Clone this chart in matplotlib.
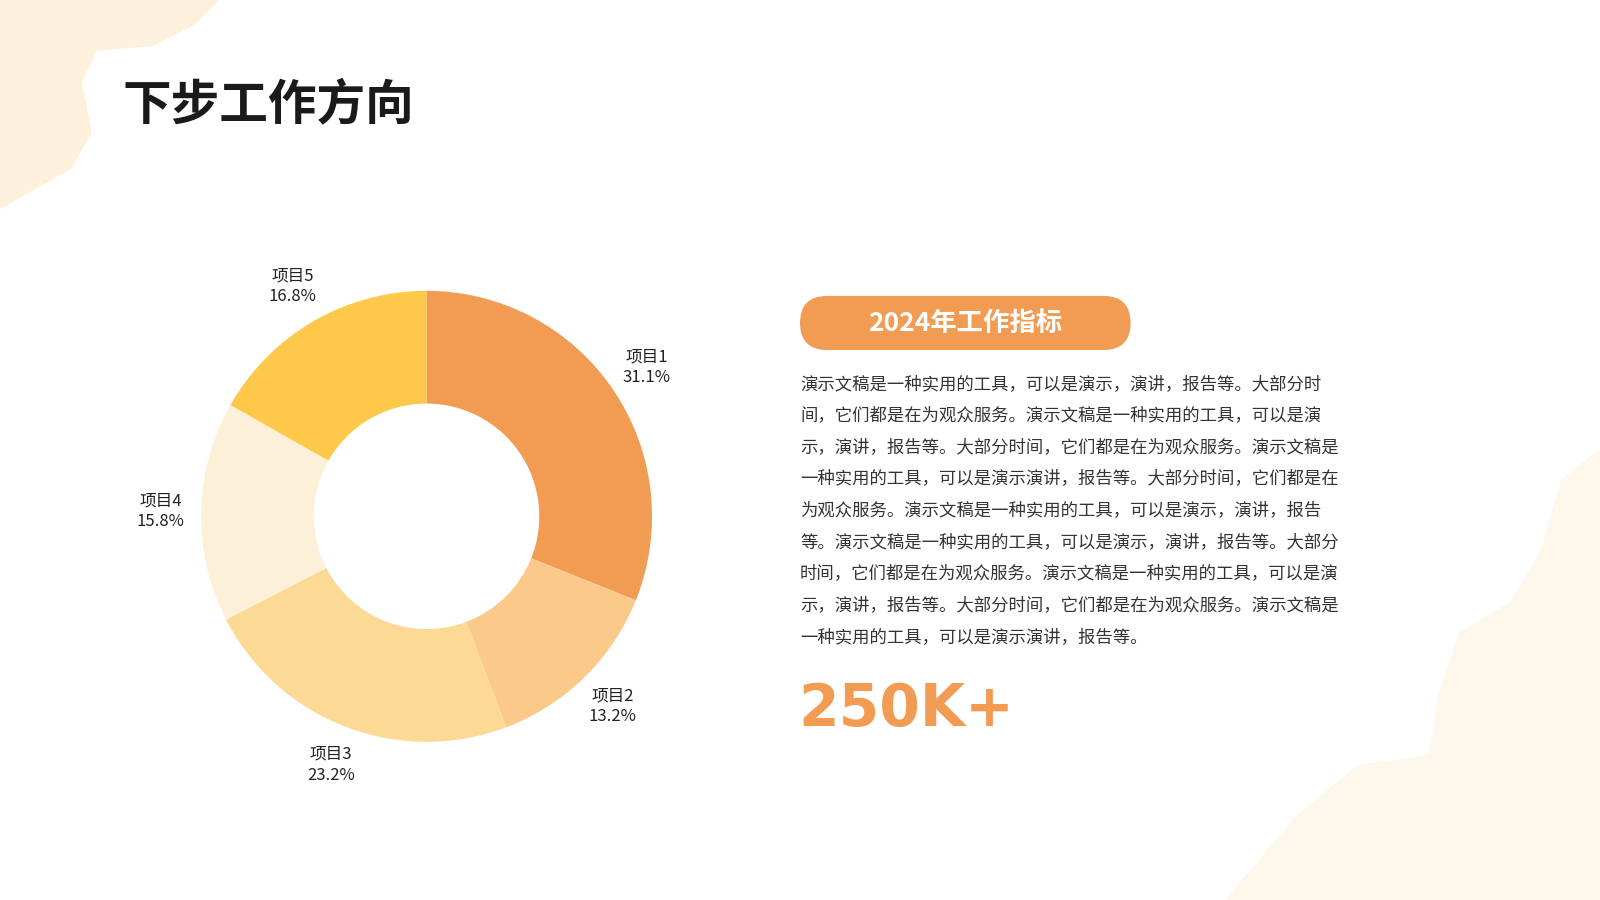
import matplotlib.pyplot as plt
from matplotlib.patches import FancyBboxPatch, Polygon

plt.rcParams['font.family'] = ['Noto Sans CJK SC', 'DejaVu Sans']

labels = ["项目1", "项目2", "项目3", "项目4", "项目5"]
shares = [31.1, 13.2, 23.2, 15.8, 16.8]
colors = ["#F29B53", "#FBC98A", "#FCD995", "#FDF0D8", "#FEC84A"]

body_lines = [
    "演示文稿是一种实用的工具，可以是演示，演讲，报告等。大部分时",
    "间，它们都是在为观众服务。演示文稿是一种实用的工具，可以是演",
    "示，演讲，报告等。大部分时间，它们都是在为观众服务。演示文稿是",
    "一种实用的工具，可以是演示演讲，报告等。大部分时间，它们都是在",
    "为观众服务。演示文稿是一种实用的工具，可以是演示，演讲，报告",
    "等。演示文稿是一种实用的工具，可以是演示，演讲，报告等。大部分",
    "时间，它们都是在为观众服务。演示文稿是一种实用的工具，可以是演",
    "示，演讲，报告等。大部分时间，它们都是在为观众服务。演示文稿是",
    "一种实用的工具，可以是演示演讲，报告等。",
]

W, H = 1568, 882
fig = plt.figure(figsize=(16, 9), dpi=100)
fig.patch.set_facecolor("white")


def fx(x):
    return x / W


def fy(y):
    return 1 - y / H


# background blobs
tl = [(0, 0), (215, 0), (190, 25), (150, 45), (95, 50), (80, 80), (90, 130), (70, 165), (0, 205)]
fig.patches.append(Polygon([(fx(x), fy(y)) for x, y in tl], closed=True,
                           transform=fig.transFigure, facecolor="#FDF1DC", edgecolor="none", zorder=0))
br = [(1568, 440), (1530, 470), (1510, 540), (1480, 590), (1430, 620), (1410, 680), (1400, 740),
      (1330, 750), (1270, 800), (1200, 882), (1568, 882)]
fig.patches.append(Polygon([(fx(x), fy(y)) for x, y in br], closed=True,
                           transform=fig.transFigure, facecolor="#FEF7EC", edgecolor="none", zorder=0))

fig.text(fx(120), fy(103), "下步工作方向", fontsize=35, fontweight="bold", color="#1a1a1a", va="center")

# donut
cx, cy, r = 418, 506, 221
lim = 1.3
h = 2 * lim * r / H
w = h * 9 / 16
ax = fig.add_axes([fx(cx) - w / 2, fy(cy) - h / 2, w, h])
ax.pie(shares, colors=colors, startangle=90, counterclock=False,
       labels=[f"{l}\n{s}%" for l, s in zip(labels, shares)], labeldistance=1.18,
       wedgeprops=dict(width=0.5, edgecolor="none"),
       textprops=dict(fontsize=12, color="#222222", ha="center", va="center", linespacing=1.3))
ax.set_xlim(-lim, lim)
ax.set_ylim(-lim, lim)
ax.set_aspect("equal")
ax.axis("off")

# badge
badge = FancyBboxPatch((fx(784), fy(343)), fx(1108 - 784), 53 / H,
                       boxstyle="round,pad=0,rounding_size=0.017", mutation_aspect=16 / 9,
                       transform=fig.transFigure, facecolor="#F29B53", edgecolor="none")
fig.patches.append(badge)
fig.text(fx(946), fy(317), "2024年工作指标", fontsize=19, fontweight="bold", color="white",
         ha="center", va="center")

for i, line in enumerate(body_lines):
    fig.text(fx(784), fy(376 + i * 31), line, fontsize=12.5, color="#333333", va="center")

fig.text(fx(782), fy(695), "250K+", fontsize=42, fontweight="bold", color="#F29B53",
         va="center", family="DejaVu Sans")

fig.savefig("out.png", dpi=100, facecolor=fig.get_facecolor())
